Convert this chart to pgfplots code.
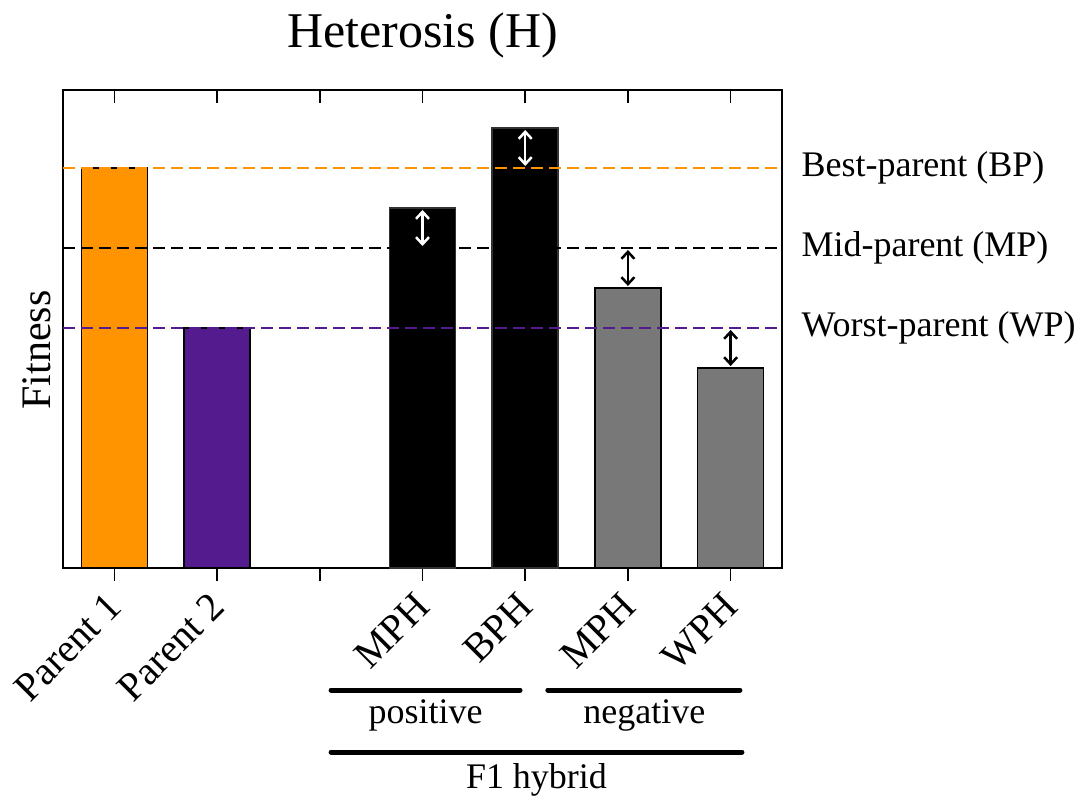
\documentclass[border=0pt]{standalone}
\usepackage{fontspec}
\setmainfont{Liberation Serif}
\usepackage{pgfplots}
\pgfplotsset{compat=1.18}
\usetikzlibrary{arrows.meta}
\definecolor{porange}{RGB}{255,148,0}
\definecolor{ppurple}{RGB}{84,27,143}
\definecolor{pgray}{RGB}{120,120,120}
\begin{document}
\begin{tikzpicture}
\path[use as bounding box] (-63pt,-235pt) rectangle (1019pt,568pt);
\begin{axis}[
  scale only axis, width=719pt, height=478pt,
  xmin=-0.5, xmax=6.5, ymin=0, ymax=11.95,
  ytick=\empty,
  xtick={0,...,6},
  xticklabels={Parent 1, Parent 2, {}, MPH, BPH, MPH, WPH},
  xtick pos=left,
  tick align=outside,
  major tick length=13pt,
  tick style={line width=1.5pt, black},
  axis line style={line width=1.5pt},
  xticklabel style={font=\fontsize{40}{40}\selectfont, xshift=-9pt, yshift=-5pt, rotate=45, anchor=north east},
  clip=false,
  mybar/.style={ybar, bar width=66pt, bar shift=0pt, draw=black, line width=1.5pt},
]
\addplot[mybar, fill=porange] coordinates {(0,10)};
\addplot[mybar, fill=ppurple] coordinates {(1,6)};
\addplot[mybar, fill=black, draw=black!80] coordinates {(3,9) (4,11)};
\addplot[mybar, fill=pgray] coordinates {(5,7) (6,5)};
\addplot[sharp plot, no marks, porange, line width=1.5pt, dash pattern=on 12pt off 6pt] coordinates {(-0.5,10) (6.5,10)};
\addplot[sharp plot, no marks, black, line width=1.5pt, dash pattern=on 12pt off 6pt] coordinates {(-0.5,8) (6.5,8)};
\addplot[sharp plot, no marks, ppurple, line width=1.5pt, dash pattern=on 12pt off 6pt] coordinates {(-0.5,6) (6.5,6)};
% top ticks (inward)
\pgfplotsinvokeforeach{0,...,6}{\draw[line width=1.5pt] (axis cs:#1,11.95) -- ([yshift=-13pt]axis cs:#1,11.95);}
% arrows
\draw[{Straight Barb[length=7pt,width=13pt]}-{Straight Barb[length=7pt,width=13pt]}, white, line width=2.5pt] (axis cs:3,8.95) -- (axis cs:3,8.05);
\draw[{Straight Barb[length=7pt,width=13pt]}-{Straight Barb[length=7pt,width=13pt]}, white, line width=2.5pt] (axis cs:4,10.95) -- (axis cs:4,10.05);
\draw[{Straight Barb[length=7pt,width=13pt]}-{Straight Barb[length=7pt,width=13pt]}, black, line width=2.5pt] (axis cs:5,7.95) -- (axis cs:5,7.05);
\draw[{Straight Barb[length=7pt,width=13pt]}-{Straight Barb[length=7pt,width=13pt]}, black, line width=2.5pt] (axis cs:6,5.95) -- (axis cs:6,5.05);
% right labels
\node[anchor=west, font=\fontsize{36}{36}\selectfont] at ([xshift=16pt]axis cs:6.5,10) {Best-parent (BP)};
\node[anchor=west, font=\fontsize{36}{36}\selectfont] at ([xshift=16pt]axis cs:6.5,8) {Mid-parent (MP)};
\node[anchor=west, font=\fontsize{36}{36}\selectfont] at ([xshift=16pt]axis cs:6.5,6) {Worst-parent (WP)};
% title and y label
\node[font=\fontsize{50}{50}\selectfont] at ([yshift=55pt]rel axis cs:0.5,1) {Heterosis (H)};
\node[rotate=90, font=\fontsize{42}{42}\selectfont] at ([xshift=-26pt]rel axis cs:0,0.456) {Fitness};
% group lines
\draw[line width=5pt, line cap=round] ([yshift=-122pt]axis cs:2.11,0) -- ([yshift=-122pt]axis cs:3.95,0);
\draw[line width=5pt, line cap=round] ([yshift=-122pt]axis cs:4.22,0) -- ([yshift=-122pt]axis cs:6.09,0);
\draw[line width=5pt, line cap=round] ([yshift=-184pt]axis cs:2.11,0) -- ([yshift=-184pt]axis cs:6.11,0);
\node[font=\fontsize{36}{36}\selectfont] at ([yshift=-147pt]axis cs:3.03,0) {positive};
\node[font=\fontsize{36}{36}\selectfont] at ([yshift=-147pt]axis cs:5.16,0) {negative};
\node[font=\fontsize{36}{36}\selectfont] at ([yshift=-212pt]axis cs:4.11,0) {F1 hybrid};
\end{axis}
\end{tikzpicture}
\end{document}
